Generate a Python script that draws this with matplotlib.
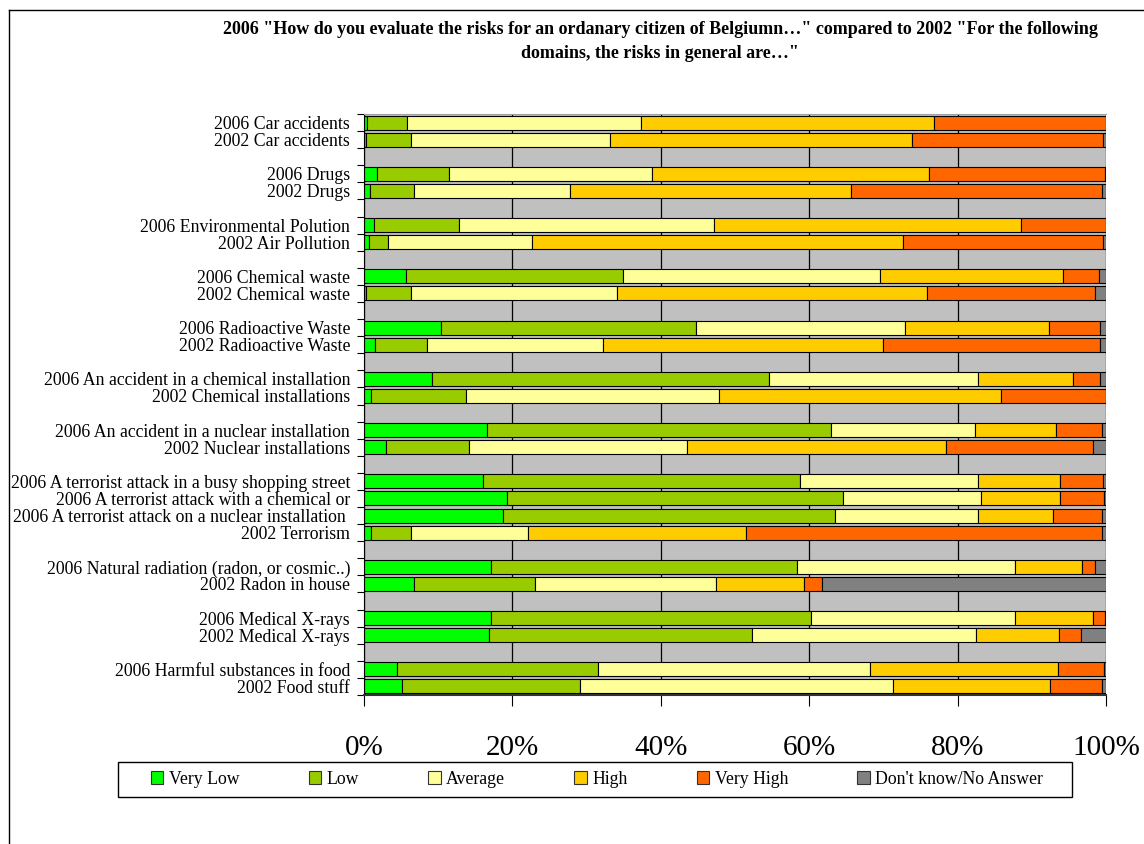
import numpy as np
import matplotlib
matplotlib.use("Agg")
import matplotlib.pyplot as plt
from matplotlib.patches import Patch, Rectangle
from matplotlib.lines import Line2D

plt.rcParams['font.family'] = ['Liberation Serif', 'DejaVu Serif']

# rows from top to bottom
rows = ["2006 Car accidents", "2002 Car accidents",
        "2006 Drugs", "2002 Drugs",
        "2006 Environmental Polution", "2002 Air Pollution",
        "2006 Chemical waste", "2002 Chemical waste",
        "2006 Radioactive Waste", "2002 Radioactive Waste",
        "2006 An accident in a chemical installation", "2002 Chemical installations",
        "2006 An accident in a nuclear installation", "2002 Nuclear installations",
        "2006 A terrorist attack in a busy shopping street",
        "2006 A terrorist attack with a chemical or",
        "2006 A terrorist attack on a nuclear installation ",
        "2002 Terrorism",
        "2006 Natural radiation (radon, or cosmic..)", "2002 Radon in house",
        "2006 Medical X-rays", "2002 Medical X-rays",
        "2006 Harmful substances in food", "2002 Food stuff"]
group_sizes = [2, 2, 2, 2, 2, 2, 2, 4, 2, 2, 2]

very_low = [0.4, 0.3, 1.8, 0.8, 1.3, 0.7, 5.6, 0.3, 10.4, 1.5, 9.2, 1.0,
            16.6, 2.9, 16.0, 19.3, 18.8, 1.0, 17.1, 6.7, 17.1, 16.9, 4.5, 5.1]
low = [5.4, 6.0, 9.6, 5.9, 11.5, 2.5, 29.3, 6.1, 34.4, 7.0, 45.4, 12.8,
       46.4, 11.3, 42.7, 45.3, 44.7, 5.4, 41.3, 16.4, 43.1, 35.4, 27.1, 24.0]
average = [31.5, 26.8, 27.4, 21.1, 34.4, 19.4, 34.7, 27.7, 28.1, 23.7, 28.1, 34.0,
           19.3, 29.3, 24.1, 18.5, 19.3, 15.7, 29.3, 24.4, 27.5, 30.2, 36.6, 42.2]
high = [39.5, 40.7, 37.4, 37.8, 41.3, 50.1, 24.6, 41.8, 19.4, 37.8, 12.9, 38.0,
        10.9, 34.9, 11.0, 10.7, 10.1, 29.4, 9.1, 11.8, 10.6, 11.2, 25.3, 21.1]
very_high = [23.2, 25.8, 23.6, 33.9, 11.5, 26.9, 4.9, 22.6, 6.9, 29.2, 3.6, 14.2,
             6.3, 19.8, 5.8, 5.9, 6.6, 48.0, 1.7, 2.4, 1.6, 2.9, 6.2, 7.0]
dont_know = [0.0, 0.4, 0.2, 0.5, 0.0, 0.4, 0.9, 1.5, 0.8, 0.8, 0.8, 0.0,
             0.5, 1.8, 0.4, 0.3, 0.5, 0.5, 1.5, 38.3, 0.1, 3.4, 0.3, 0.6]

series = [very_low, low, average, high, very_high, dont_know]
names = ["Very Low", "Low", "Average", "High", "Very High", "Don't know/No Answer"]
colors = ["#00FF00", "#99CC00", "#FFFF99", "#FFCC00", "#FF6600", "#808080"]

# slot positions, one empty slot between groups
pos = []
slot = 0
for g in group_sizes:
    for k in range(g):
        pos.append(slot)
        slot += 1
    slot += 1
nslots = slot - 1
pos = np.array(pos)

vals = np.array(series, dtype=float)
vals = vals / vals.sum(axis=0) * 100

fig = plt.figure(figsize=(11.44, 8.44), dpi=100)
ax = fig.add_axes([364/1144, 149/844, 742/1144, 581/844])
ax.set_facecolor("#C0C0C0")

left = np.zeros(len(rows))
for v, c, n in zip(vals, colors, names):
    ax.barh(pos, v, left=left, height=0.82, color=c, edgecolor="black",
            linewidth=0.8, label=n)
    left += v

ax.set_xlim(0, 100)
ax.set_ylim(nslots - 0.5, -0.5)
ax.set_axisbelow(True)
ax.grid(axis="x", color="black", linewidth=0.9)
ax.grid(axis="y", visible=False)

ax.set_xticks([0, 20, 40, 60, 80, 100])
ax.set_xticklabels(["0%", "20%", "40%", "60%", "80%", "100%"], fontsize=21)
ax.tick_params(axis="x", length=8, width=0.8, direction="out", pad=21)

ax.set_yticks(pos)
ax.set_yticklabels(rows, fontsize=12.8)
ax.tick_params(axis="y", which="major", length=0, pad=10)
ax.set_yticks(np.arange(-0.5, nslots, 1.0), minor=True)
ax.tick_params(axis="y", which="minor", length=5, width=0.8, direction="out")

ax.spines["right"].set_visible(False)
ax.spines["top"].set_color("#A0A0A0")
ax.spines["left"].set_color("black")
ax.spines["bottom"].set_color("#333333")
ax.spines["bottom"].set_linewidth(1.5)

fig.text(660/1144, 1 - 29/844, '2006 "How do you evaluate the risks for an ordanary citizen of Belgiumn…" compared to 2002 "For the following',
         ha="center", va="center", fontsize=13, fontweight="bold")
fig.text(660/1144, 1 - 53/844, 'domains, the risks in general are…"',
         ha="center", va="center", fontsize=13, fontweight="bold")

# outer frame (left and top edges)
fig.add_artist(Line2D([9/1144, 9/1144], [0, 1 - 10/844], transform=fig.transFigure,
                      color="black", linewidth=1))
fig.add_artist(Line2D([9/1144, 1], [1 - 10/844, 1 - 10/844], transform=fig.transFigure,
                      color="black", linewidth=1))

# legend box
fig.add_artist(Rectangle((118/1144, 1 - 797/844), 954/1144, 35/844,
                         transform=fig.transFigure, facecolor="white",
                         edgecolor="black", linewidth=1))
handles = [Patch(facecolor=c, edgecolor="#333333", linewidth=0.8) for c in colors]
leg = fig.legend(handles, names, loc="center", bbox_to_anchor=(597/1144, 1 - 779/844),
                 ncol=6, fontsize=12.8, frameon=False,
                 handlelength=0.7, handleheight=0.7,
                 handletextpad=0.3, columnspacing=3.9, borderpad=0.3)

fig.savefig("out.png", dpi=100)
